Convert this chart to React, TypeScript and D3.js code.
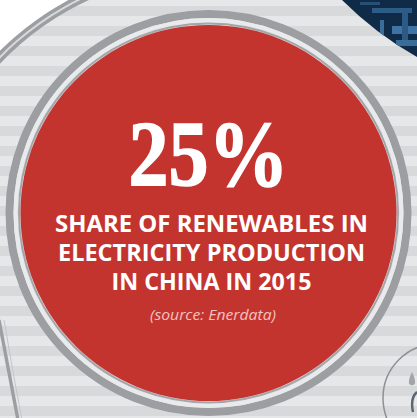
import React from "react";
import * as d3 from "d3";

const W = 417;
const H = 418;

const headlineValue = [25];
const headlineSuffix = ["%"];
const subtitleLines = ["SHARE OF RENEWABLES IN", "ELECTRICITY PRODUCTION", "IN CHINA IN 2015"];
const subtitleWidths = [313, 307, 200];
const sourceLabel = ["(source: Enerdata)"];

const RED = "#c4342f";
const RING = "#9d9ea1";
const STRIPE_LIGHT = "#e6e7e9";
const STRIPE_DARK = "#d8d9db";

export default function App() {
  const cx = 208.5;
  const cy = 213;
  const r = 188;
  const bigCx = 208;
  const bigCy = 260;
  const bigR = 295;

  const stripes = d3.range(0, H + 20, 20);
  const lineY = d3.scaleLinear().domain([0, subtitleLines.length - 1]).range([232, 290]);

  const borderArc = d3.arc<any>()
    .innerRadius(bigR - 9)
    .outerRadius(bigR)
    .startAngle(-1.75)
    .endAngle(-0.1);
  const borderGap = d3.arc<any>()
    .innerRadius(bigR - 5.5)
    .outerRadius(bigR - 3.5)
    .startAngle(-1.75)
    .endAngle(-0.1);

  const photoPatches = [
    [372, 8, 40, 5, "#2d5c86"],
    [380, 20, 4, 40, "#3b6d99"],
    [392, 26, 25, 8, "#3f73a3"],
    [360, 2, 20, 3, "#284f75"],
    [402, 12, 6, 30, "#2c5a84"],
    [396, 40, 21, 6, "#3a6c9a"],
  ] as const;

  return (
    <svg width={W} height={H} style={{ position: "absolute", left: 0, top: 0 }}>
      <defs>
        <clipPath id="bigClip">
          <circle cx={bigCx} cy={bigCy} r={bigR} />
        </clipPath>
        <clipPath id="photoClip">
          <path d="M 342 0 L 417 0 L 417 57 Q 376 34 342 0 Z" />
        </clipPath>
      </defs>
      <rect x={0} y={0} width={W} height={H} fill="#ffffff" />
      {/* striped background */}
      <g clipPath="url(#bigClip)">
        <rect x={0} y={0} width={W} height={H} fill={STRIPE_LIGHT} />
        {stripes.map((y) => (
          <rect key={y} x={0} y={y + 6} width={W} height={10} fill={STRIPE_DARK} />
        ))}
      </g>
      {/* photo top-right */}
      <g clipPath="url(#photoClip)">
        <rect x={330} y={0} width={87} height={70} fill="#0f2b48" />
        {photoPatches.map((p, i) => (
          <rect key={i} x={p[0]} y={p[1]} width={p[2]} height={p[3]} fill={p[4]} />
        ))}
      </g>
      <g transform={`translate(${bigCx},${bigCy})`}>
        <path d={borderArc(null) || ""} fill={RING} />
        <path d={borderGap(null) || ""} fill="#d7d8da" />
      </g>
      {/* bottom-left neighbour edge */}
      <path d="M -1 320 Q 8 368 18 420" fill="none" stroke={RING} strokeWidth={3.4} />
      <path d="M 4 320 Q 12 368 22 420" fill="none" stroke="#c4c5c8" strokeWidth={1} />
      {/* bottom-right icon circle */}
      <circle cx={437} cy={398} r={54} fill="none" stroke="#8e9095" strokeWidth={1.5} />
      <path d="M 412 372 Q 415 378 415 381 A 3.2 3.2 0 1 1 409 381 Q 409 378 412 372 Z" fill="#a3a5a9" />
      <path d="M 417 392 Q 410 398 413 412" fill="none" stroke="#5d6673" strokeWidth={2.5} />
      {/* main ring */}
      <circle cx={cx} cy={cy} r={r + 11} fill="none" stroke={RING} strokeWidth={8} />
      <circle cx={cx} cy={cy} r={r + 5} fill="none" stroke="#e9eaec" strokeWidth={4} />
      <circle cx={cx} cy={cy} r={r + 1.5} fill="none" stroke="#a4a5a8" strokeWidth={2} />
      <circle cx={cx} cy={cy} r={r} fill={RED} />
      {/* headline */}
      <text
        x={cx}
        y={185}
        textAnchor="middle"
        fill="#ffffff"
        stroke="#ffffff"
        strokeWidth={1.6}
        fontFamily="'Liberation Serif', 'DejaVu Serif', serif"
        fontWeight={700}
        fontSize={94}
        textLength={160}
        lengthAdjust="spacingAndGlyphs"
      >
        {`${headlineValue[0]}${headlineSuffix[0]}`}
      </text>
      {subtitleLines.map((line, i) => (
        <text
          key={line}
          x={cx + 3}
          y={lineY(i)}
          textAnchor="middle"
          fill="#ffffff"
          fontFamily="'Open Sans', 'DejaVu Sans', sans-serif"
          fontWeight={700}
          fontSize={23.5}
          textLength={subtitleWidths[i]}
          lengthAdjust="spacingAndGlyphs"
        >
          {line}
        </text>
      ))}
      <text
        x={213}
        y={320}
        textAnchor="middle"
        fill="#f3c3bf"
        fontFamily="'Open Sans', 'DejaVu Sans', sans-serif"
        fontStyle="italic"
        fontWeight={400}
        fontSize={14}
        textLength={126}
        lengthAdjust="spacingAndGlyphs"
      >
        {sourceLabel[0]}
      </text>
    </svg>
  );
}
